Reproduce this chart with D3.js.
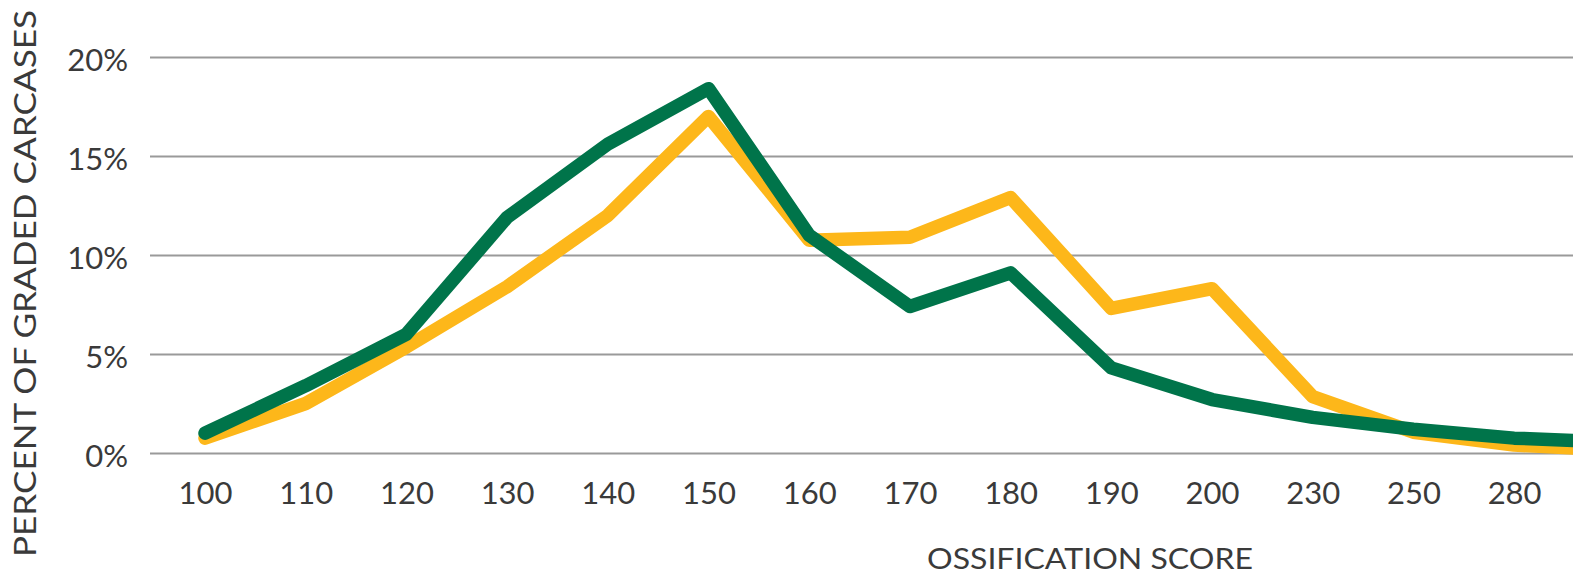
<!DOCTYPE html>
<html>
<head>
<meta charset="utf-8">
<script src="https://cdn.jsdelivr.net/npm/d3@7"></script>
<style>
  html, body { margin: 0; padding: 0; background: #fff; }
  svg { display: block; }
  text { font-family: Lato, "Open Sans", sans-serif; fill: #3a3a3a; }
</style>
</head>
<body>
<svg id="chart" width="1573" height="576"></svg>
<script>
// ---- data ----
// last category lies beyond the cropped right edge (the lines continue off-picture)
const categories = ["100","110","120","130","140","150","160","170","180","190","200","230","250","280","300"];
const xTickLabels = ["100","110","120","130","140","150","160","170","180","190","200","230","250","280"];
const yTicks = [0, 5, 10, 15, 20];
const greenValues  = [1.0, 3.4, 6.0, 11.9, 15.6, 18.4, 11.0, 7.4, 9.1, 4.3, 2.7, 1.8, 1.2, 0.75, 0.55];
const yellowValues = [0.75, 2.5, 5.35, 8.4, 12.0, 17.0, 10.75, 10.9, 12.9, 7.3, 8.3, 2.85, 1.05, 0.4, 0.15];

// ---- layout ----
const W = 1573, H = 576;
const x0 = 205, step = 100.7;
const svg = d3.select("#chart");

const x = d3.scalePoint().domain(categories).range([x0, x0 + step * (categories.length - 1)]);
const y = d3.scaleLinear().domain([0, 20]).range([453, 57]);

// gridlines
const grid = svg.append("g").attr("transform", "translate(150,0)")
  .call(d3.axisLeft(y).tickValues(yTicks).tickSize(-(W - 150)).tickFormat(""));
grid.select(".domain").remove();
grid.selectAll(".tick line").attr("stroke", "#9a9a9a").attr("stroke-width", 2);

// y tick labels
const yAxis = svg.append("g").attr("transform", "translate(128,0)")
  .call(d3.axisLeft(y).tickValues(yTicks).tickSize(0).tickPadding(0).tickFormat(d => d + "%"));
yAxis.select(".domain").remove();
yAxis.selectAll("text").attr("font-size", 31).attr("dy", "0.42em")
  .style("font-family", "Lato, sans-serif").attr("fill", "#3a3a3a");

// x tick labels
const xAxis = svg.append("g").attr("transform", "translate(0,480)")
  .call(d3.axisBottom(x).tickValues(xTickLabels).tickSize(0).tickPadding(0));
xAxis.select(".domain").remove();
xAxis.selectAll("text").attr("font-size", 31).attr("dy", "0.78em")
  .style("font-family", "Lato, sans-serif").attr("fill", "#3a3a3a");

// lines
const line = d3.line().x((d, i) => x(categories[i])).y(d => y(d));
svg.append("path").datum(yellowValues).attr("d", line)
  .attr("fill", "none").attr("stroke", "#FDB71A").attr("stroke-width", 13.5)
  .attr("stroke-linejoin", "round").attr("stroke-linecap", "round");
svg.append("path").datum(greenValues).attr("d", line)
  .attr("fill", "none").attr("stroke", "#00744A").attr("stroke-width", 13.5)
  .attr("stroke-linejoin", "round").attr("stroke-linecap", "round");

// axis titles
svg.append("text").attr("x", 927).attr("y", 569)
  .attr("font-size", 29).attr("textLength", 326).attr("lengthAdjust", "spacingAndGlyphs")
  .text("OSSIFICATION SCORE");
svg.append("text").attr("transform", "translate(36,557) rotate(-90)")
  .attr("font-size", 30).attr("textLength", 547).attr("lengthAdjust", "spacingAndGlyphs")
  .text("PERCENT OF GRADED CARCASES");
</script>
</body>
</html>
